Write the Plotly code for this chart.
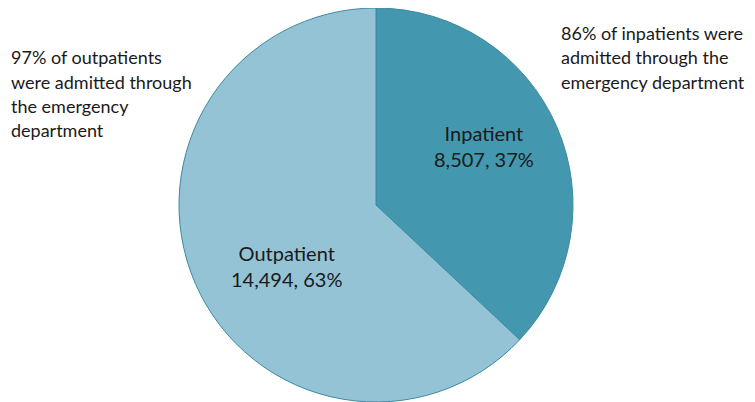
import plotly.graph_objects as go

W, H = 755, 402
OFF = 8  # page body margin shifts the figure

categories = ["Inpatient", "Outpatient"]
counts = [8507, 14494]
slice_colors = ["#4397ae", "#94c3d5"]

# side notes (one string per line)
outpatient_note = ["97% of outpatients", "were admitted through", "the emergency", "department"]
inpatient_note = ["86% of inpatients were", "admitted through the", "emergency department"]

FONT = "Lato"
TEXT = "#1a1a1a"

total = sum(counts)
pcts = [round(c / total * 100) for c in counts]


def px(x, y):
    return (x - OFF) / W, 1 - (y - OFF) / H


dx0, dy1 = px(178, 7)
dx1, dy0 = px(574, 402)

fig = go.Figure(
    go.Pie(
        labels=categories,
        values=counts,
        sort=False,
        direction="clockwise",
        rotation=0,
        marker=dict(colors=slice_colors, line=dict(color="#3b8aa0", width=1)),
        textinfo="none",
        hoverinfo="label+value+percent",
        domain=dict(x=[dx0, dx1], y=[dy0, min(dy1, 1)]),
        showlegend=False,
    )
)

# in-slice labels
label_pos = {"Inpatient": (484, 146), "Outpatient": (286, 266)}
for name, c, p in zip(categories, counts, pcts):
    x, y = px(*label_pos[name])
    fig.add_annotation(
        x=x, y=y, xref="paper", yref="paper",
        text=f"{name}<br>{c:,}, {p}%",
        showarrow=False, xanchor="center", yanchor="middle",
        font=dict(family=FONT, size=20, color=TEXT),
    )


def add_note(lines, x0, y0, pitch=24.5):
    for i, line in enumerate(lines):
        x, y = px(x0, y0 + i * pitch)
        fig.add_annotation(
            x=x, y=y, xref="paper", yref="paper", text=line,
            showarrow=False, xanchor="left", yanchor="middle",
            font=dict(family=FONT, size=18, color=TEXT),
        )


add_note(outpatient_note, 9, 57)
add_note(inpatient_note, 559, 33)

fig.update_layout(
    width=W, height=H,
    margin=dict(l=0, r=0, t=0, b=0),
    paper_bgcolor="white",
    plot_bgcolor="white",
)

fig.write_html("out.html")
